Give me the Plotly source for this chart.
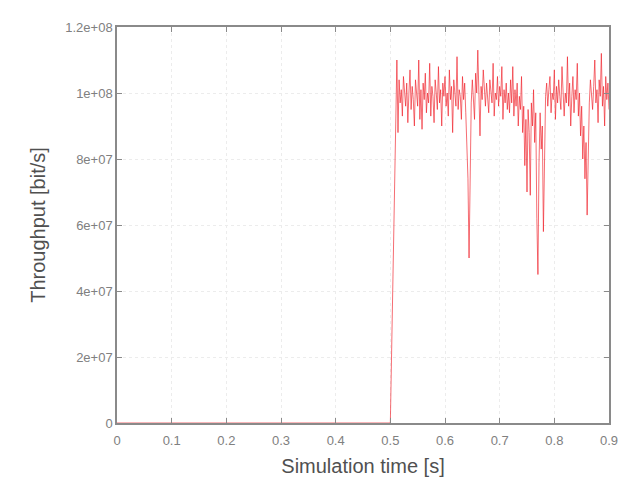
import plotly.graph_objects as go

# Throughput in Mbit/s, sampled every 2 ms from 0.512 s to 0.900 s
thr_mbit = [
    110, 88, 104, 97, 101, 93, 105, 99, 96, 103,
    91, 100, 107, 95, 102, 98, 90, 104, 100, 96,
    110, 92, 101, 89, 103, 98, 106, 94, 100, 97,
    109, 93, 102, 99, 91, 104, 100, 95, 108, 97,
    101, 90, 103, 99, 105, 96, 100, 93, 107, 98,
    102, 88, 104, 100, 96, 111, 95, 101, 99, 92,
    105, 98, 103, 94, 86, 74, 50, 82, 97, 104,
    99, 92, 106, 100, 113, 95, 87, 102, 98, 107,
    100, 96, 103, 99, 94, 104, 101, 97, 109, 93,
    100, 98, 105, 96, 102, 99, 108, 92, 101, 97,
    103, 95, 100, 94, 104, 97, 108, 93, 101, 96,
    103, 90, 99, 95, 105, 88, 96, 78, 92, 70,
    95, 88, 69, 97, 90, 101, 85, 94, 62, 45,
    79, 94, 83, 90, 58, 86, 99, 103, 96, 101,
    105, 94, 100, 98, 107, 92, 102, 97, 104, 99,
    95, 108, 101, 93, 100, 97, 111, 96, 103, 90,
    99, 105, 94, 101, 98, 109, 93, 100, 87, 96,
    80, 90, 74, 85, 63, 82, 97, 104, 100, 95,
    102, 110, 97, 101, 91, 104, 99, 112, 96, 102,
    90, 105, 98, 103, 95,
]
t_start = 0.512
t_step = 0.002
times = [round(t_start + t_step * i, 3) for i in range(len(thr_mbit))]

# idle phase before the flow starts
idle_times = [0.0, 0.5]
idle_mbit = [0, 0]

x_ticks = [0, 0.1, 0.2, 0.3, 0.4, 0.5, 0.6, 0.7, 0.8, 0.9]
x_labels = ["0", "0.1", "0.2", "0.3", "0.4", "0.5", "0.6", "0.7", "0.8", "0.9"]
y_ticks = [0, 20, 40, 60, 80, 100, 120]
y_labels = ["0", "2e+07", "4e+07", "6e+07", "8e+07", "1e+08", "1.2e+08"]

xs = idle_times + times
ys = idle_mbit + thr_mbit

fig = go.Figure()
fig.add_trace(go.Scatter(
    x=xs, y=ys, mode="lines",
    line=dict(color="rgba(240,30,40,0.65)", width=1),
    showlegend=False,
))

FONT = "Liberation Sans, Arial, sans-serif"
axis_common = dict(
    showline=True, linecolor="#8a8a8a", linewidth=1.5, mirror="ticks",
    ticks="inside", ticklen=5, tickcolor="#8a8a8a", tickwidth=1,
    showgrid=True, gridcolor="#ececec", griddash="dot", gridwidth=1,
    zeroline=False,
    tickfont=dict(family=FONT, size=13, color="#808080"),
)

fig.update_layout(
    width=634, height=479,
    margin=dict(l=109, r=33, t=13, b=64),
    paper_bgcolor="white", plot_bgcolor="white",
    xaxis=dict(range=[0, 0.9], tickvals=x_ticks, ticktext=x_labels,
               ticklabelstandoff=5,
               title=dict(text="Simulation time [s]", standoff=12,
                          font=dict(family=FONT, size=20, color="#505050")),
               **axis_common),
    yaxis=dict(range=[0, 120], tickvals=y_ticks, ticktext=y_labels,
               title=dict(text="Throughput [bit/s]", standoff=14,
                          font=dict(family=FONT, size=20, color="#505050")),
               **axis_common),
)

fig.write_html("out.html")
